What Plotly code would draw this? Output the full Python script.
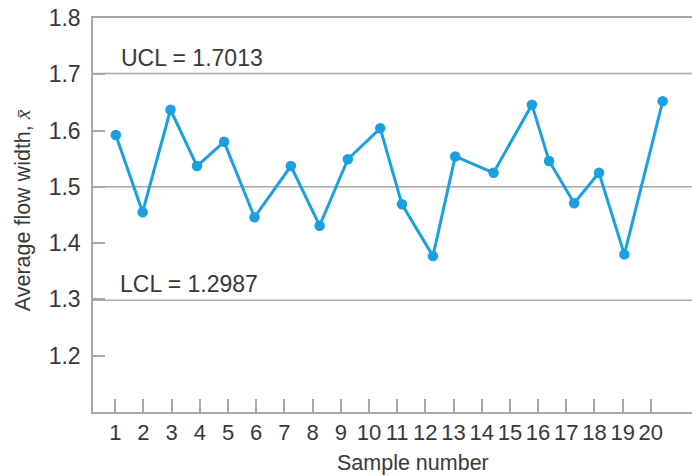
import plotly.graph_objects as go

# Data
sample_pos = [1.02, 1.97, 2.96, 3.90, 4.86, 5.94, 7.23, 8.25, 9.25, 10.40,
              11.17, 12.27, 13.06, 14.42, 15.78, 16.39, 17.28, 18.16, 19.06, 20.42]
avg_width = [1.592, 1.455, 1.637, 1.537, 1.580, 1.446, 1.537, 1.431, 1.549, 1.604,
             1.469, 1.377, 1.554, 1.525, 1.646, 1.546, 1.471, 1.525, 1.380, 1.652]
x_ticks = list(range(1, 21))
y_ticks = [1.2, 1.3, 1.4, 1.5, 1.6, 1.7, 1.8]
UCL = 1.7013
CL = 1.5
LCL = 1.2987

LINE_BLUE = "#1b9fe3"
TEXT = "#383838"
GRID = "#a8a8a8"
FONT = "Liberation Sans, Arial, sans-serif"

fig = go.Figure()
fig.add_trace(go.Scatter(
    x=sample_pos, y=avg_width, mode="lines+markers",
    line=dict(color=LINE_BLUE, width=3),
    marker=dict(color=LINE_BLUE, size=10.5),
    showlegend=False, hoverinfo="skip",
))

for yv in [UCL, CL, LCL]:
    fig.add_shape(type="line", xref="paper", x0=0, x1=1, yref="y", y0=yv, y1=yv,
                  line=dict(color=GRID, width=1.5), layer="below")

fig.add_annotation(text=f"UCL = {UCL:.4f}", xref="x", yref="y", x=1.13, y=UCL,
                   xanchor="left", yanchor="bottom", yshift=1, showarrow=False,
                   font=dict(family=FONT, size=23, color=TEXT))
fig.add_annotation(text=f"LCL = {LCL:.4f}", xref="x", yref="y", x=1.11, y=LCL,
                   xanchor="left", yanchor="bottom", yshift=1, showarrow=False,
                   font=dict(family=FONT, size=23, color=TEXT))

fig.add_annotation(text="Sample number", xref="paper", yref="paper",
                   x=0.535, y=-0.13, xanchor="center", yanchor="middle",
                   showarrow=False, font=dict(family=FONT, size=21.5, color=TEXT))
fig.add_annotation(text="Average flow width, <span style=\"font-family:Liberation Serif\"><i>x̄</i></span>",
                   xref="paper", yref="paper", x=-0.1169, y=0.512,
                   xanchor="center", yanchor="middle", textangle=-90,
                   showarrow=False, font=dict(family=FONT, size=21.5, color=TEXT))

fig.update_xaxes(range=[0.21, 21.46], tickvals=x_ticks, ticktext=[str(v) for v in x_ticks],
                 ticks="inside", ticklen=13, tickwidth=1.5, tickcolor=GRID,
                 showline=True, linecolor=GRID, linewidth=1.5, mirror=True,
                 showgrid=False, zeroline=False, ticklabelstandoff=0, automargin=False,
                 tickfont=dict(family=FONT, size=22, color=TEXT))
fig.update_yaxes(range=[1.1, 1.8], tickvals=y_ticks, ticktext=[f"{v:.1f}" for v in y_ticks],
                 ticks="inside", ticklen=12, tickwidth=1.5, tickcolor=GRID,
                 showline=True, linecolor=GRID, linewidth=1.5,
                 showgrid=False, zeroline=False, ticklabelstandoff=6, automargin=False,
                 tickfont=dict(family=FONT, size=23, color=TEXT))

fig.update_layout(width=692, height=476, margin=dict(l=93, r=0, t=18, b=64, autoexpand=False),
                  plot_bgcolor="white", paper_bgcolor="white")

fig.write_html("out.html", config={"displayModeBar": False},
               post_script="document.body.style.margin='0';document.body.style.overflow='hidden';")
